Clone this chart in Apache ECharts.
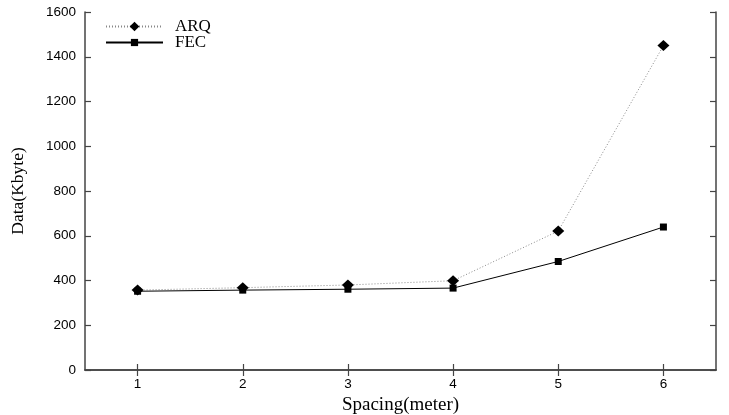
<!DOCTYPE html>
<html><head><meta charset="utf-8">
<script src="https://cdn.jsdelivr.net/npm/echarts@6/dist/echarts.min.js"></script>
<style>html,body{margin:0;padding:0;background:#fff}#c{width:729px;height:415px}</style>
</head><body><div id="c"></div>
<script>
var categories = ['1','2','3','4','5','6'];
var arq = [357, 368, 380, 399, 621, 1450];
var fec = [352, 357, 361, 366, 485, 639];
var yTicks = [0,200,400,600,800,1000,1200,1400,1600];

var chart = echarts.init(document.getElementById('c'));
var axisLine = {show:true, lineStyle:{color:'#444', width:1.5}};
var tick = {show:true, inside:true, length:6, lineStyle:{color:'#444', width:1.2}};
var legendText = {fontFamily:'Liberation Serif', fontSize:17, color:'#000', padding:[0,0,0,7]};
chart.setOption({
  animation:false,
  grid:{left:85, right:13, top:12, bottom:45, containLabel:false, outerBoundsMode:'none'},
  legend:[{
    left:105, top:18, padding:0, itemWidth:57, itemHeight:12,
    textStyle:legendText, data:['ARQ']
  },{
    left:105, top:34, padding:0, itemWidth:57, itemHeight:9,
    textStyle:legendText, data:['FEC']
  }],
  xAxis:[{
    type:'category', data:categories, boundaryGap:true,
    axisLine:axisLine, axisTick:Object.assign({alignWithLabel:true}, tick),
    axisLabel:{fontFamily:'Liberation Sans', fontSize:13.5, color:'#000', margin:7},
    name:'Spacing(meter)', nameLocation:'middle', nameGap:22,
    nameTextStyle:{fontFamily:'Liberation Serif', fontSize:19, color:'#000'},
    splitLine:{show:false}
  },{
    type:'category', data:categories, boundaryGap:true, position:'top',
    axisLine:axisLine, axisTick:Object.assign({alignWithLabel:true}, tick),
    axisLabel:{show:false}, splitLine:{show:false}
  }],
  yAxis:[{
    type:'value', min:yTicks[0], max:yTicks[yTicks.length-1], interval:200,
    axisLine:axisLine, axisTick:tick,
    axisLabel:{fontFamily:'Liberation Sans', fontSize:13.5, color:'#000', margin:9,
      formatter:function(v){return String(v);}},
    name:'Data(Kbyte)', nameLocation:'middle', nameGap:58,
    nameTextStyle:{fontFamily:'Liberation Serif', fontSize:17.5, color:'#000'},
    splitLine:{show:false}
  },{
    type:'value', min:yTicks[0], max:yTicks[yTicks.length-1], interval:200, position:'right',
    axisLine:axisLine, axisTick:tick, axisLabel:{show:false}, splitLine:{show:false}
  }],
  series:[{
    name:'ARQ', type:'line', data:arq, symbol:'diamond', symbolSize:[12,11],
    lineStyle:{color:'#888', width:1, type:[1,2]}, itemStyle:{color:'#000'}
  },{
    name:'FEC', type:'line', data:fec, symbol:'rect', symbolSize:7,
    lineStyle:{color:'#000', width:1}, itemStyle:{color:'#000'}
  }]
});
</script></body></html>
